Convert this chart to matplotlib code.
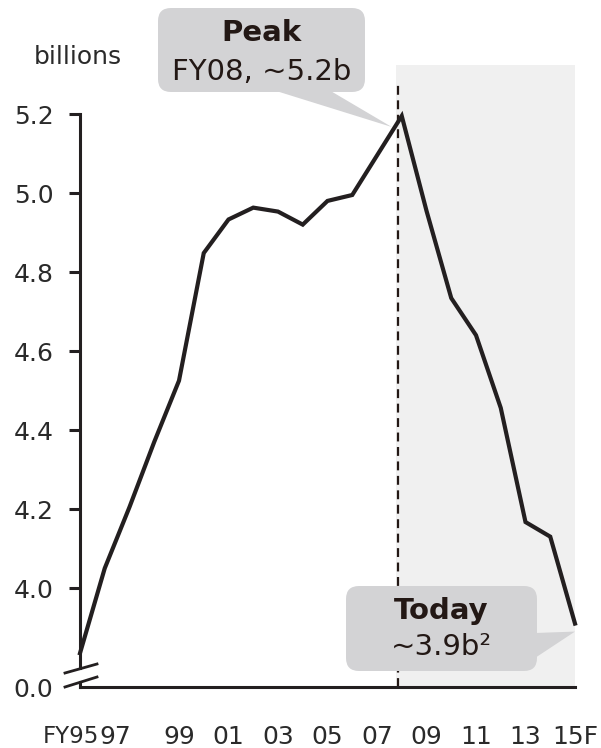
import matplotlib
matplotlib.use("Agg")
import matplotlib.pyplot as plt
from matplotlib.patches import FancyBboxPatch, Polygon
from matplotlib.lines import Line2D
from matplotlib.transforms import ScaledTranslation

plt.rcParams['font.family'] = ['DejaVu Sans']

# ---------------- data ----------------
years = list(range(1995, 2016))
values = [3.835, 4.05, 4.205, 4.37, 4.525, 4.848, 4.933, 4.963, 4.953, 4.92,
          4.98, 4.995, 5.095, 5.195, 4.955, 4.734, 4.64, 4.456, 4.167, 4.13, 3.91]
xtick_years = [1995, 1997, 1999, 2001, 2003, 2005, 2007, 2009, 2011, 2013, 2015]
xtick_labels = ['FY95', '97', '99', '01', '03', '05', '07', '09', '11', '13', '15F']
ytick_values = [4.0, 4.2, 4.4, 4.6, 4.8, 5.0, 5.2]
ytick_labels = ['4.0', '4.2', '4.4', '4.6', '4.8', '5.0', '5.2']
peak_year = 2008
peak_value = 5.2
today_value = 3.9
ybreak_label = '0.0'

INK = '#231f20'
TXT = '#231815'
SHADE = '#f0f0f0'
BOX = '#d3d3d5'
LBL = '#2a2a2a'

W, H = 601, 748
fig = plt.figure(figsize=(W / 100, H / 100), dpi=100)
ax = fig.add_axes([80 / W, 61 / H, 495 / W, 622 / H])

ybottom, ytop = 3.7494, 5.3241
ax.set_xlim(1995, 2015)
ax.set_ylim(ybottom, ytop)

# shaded decline region and dashed peak marker
ax.axvspan(peak_year - 0.25, 2015, color=SHADE, zorder=0, lw=0)
ax.axvline(peak_year - 0.15, ymin=0, ymax=(5.284 - ybottom) / (ytop - ybottom),
           color=TXT, lw=1.6, ls=(0, (4, 2.5)), zorder=1)

ax.plot(years, values, color=INK, lw=3.0, solid_joinstyle='miter', zorder=3,
        clip_on=False)

# spines
for s in ['top', 'right']:
    ax.spines[s].set_visible(False)
ax.spines['left'].set_linewidth(2.2)
ax.spines['left'].set_color(INK)
ax.spines['left'].set_bounds(3.797, 5.2)
ax.spines['bottom'].set_linewidth(2.2)
ax.spines['bottom'].set_color(INK)

# ticks
ax.set_yticks([ybottom] + ytick_values)
ax.set_yticklabels([ybreak_label] + ytick_labels)
ax.tick_params(axis='y', direction='out', length=8, width=2.2, color=INK,
               pad=11, labelsize=18, labelcolor=LBL)
ax.yaxis.get_major_ticks()[0].tick1line.set_visible(False)

ax.set_xticks(xtick_years)
ax.set_xticklabels(xtick_labels)
ax.tick_params(axis='x', length=0, pad=27, labelsize=18, labelcolor=LBL)
xl = ax.get_xticklabels()
xl[0].set_fontsize(16.5)
xl[0].set_transform(xl[0].get_transform() + ScaledTranslation(-9 / 100, -0.8 / 100, fig.dpi_scale_trans))
xl[1].set_transform(xl[1].get_transform() + ScaledTranslation(-14.5 / 100, 0, fig.dpi_scale_trans))

# axis break marks
aw, ah = 495.0, 622.0
def ax_px(px, py):
    return ((px - 80) / aw, (687 - py) / ah)
for (p0, p1) in [((65, 673), (97, 664)), ((65, 687), (97, 677))]:
    a0, a1 = ax_px(*p0), ax_px(*p1)
    ax.add_line(Line2D([a0[0], a1[0]], [a0[1], a1[1]], transform=ax.transAxes,
                       color=INK, lw=2.0, clip_on=False))
b0, b1 = ax_px(80, 682), ax_px(80, 687)
ax.add_line(Line2D([b0[0], b1[0]], [b0[1], b1[1]], transform=ax.transAxes,
                   color=INK, lw=2.2, clip_on=False))

# unit label
fig.text(78 / W, 1 - 57 / H, 'billions', ha='center', va='center',
         fontsize=18, color=LBL)

# callouts (layout in pixel space)
inch = fig.dpi_scale_trans
def px2in(px, py):
    return (px / 100.0, (H - py) / 100.0)

def data2in(x, y, dx=0, dy=0):
    # dx, dy: pixel offsets (dy positive = downwards in the picture)
    d = ax.transData.transform((x, y))
    return ((d[0] + dx) / 100.0, (d[1] - dy) / 100.0)

def callout(x0, y0, x1, y1, base, tip, title, sub, ty, sy):
    bx, by = px2in(x0, y1)
    box = FancyBboxPatch((bx, by), (x1 - x0) / 100, (y1 - y0) / 100,
                         boxstyle='round,pad=0,rounding_size=0.13',
                         transform=inch, fc=BOX, ec='none', zorder=5)
    fig.add_artist(box)
    pts = [px2in(*base[0]), px2in(*base[1]), tip]
    fig.add_artist(Polygon(pts, closed=True, transform=inch, fc=BOX, ec='none', zorder=5))
    cx = (x0 + x1) / 2
    fig.text(cx / W, 1 - ty / H, title, ha='center', va='center', fontsize=21,
             fontweight='bold', color=TXT, zorder=6)
    fig.text(cx / W, 1 - sy / H, sub, ha='center', va='center', fontsize=21,
             color=TXT, zorder=6)

callout(158, 8, 365, 92, [(273, 90), (329, 90)],
        data2in(peak_year, values[years.index(peak_year)], dx=-10, dy=11),
        'Peak', f'FY{str(peak_year)[2:]}, ~{peak_value}b', 33, 72)
callout(346, 586, 537, 671, [(535, 633), (535, 658)],
        data2in(2015, values[-1], dx=0, dy=8),
        'Today', f'~{today_value}b\u00b2', 611, 647)

fig.savefig('out.png', dpi=100)
